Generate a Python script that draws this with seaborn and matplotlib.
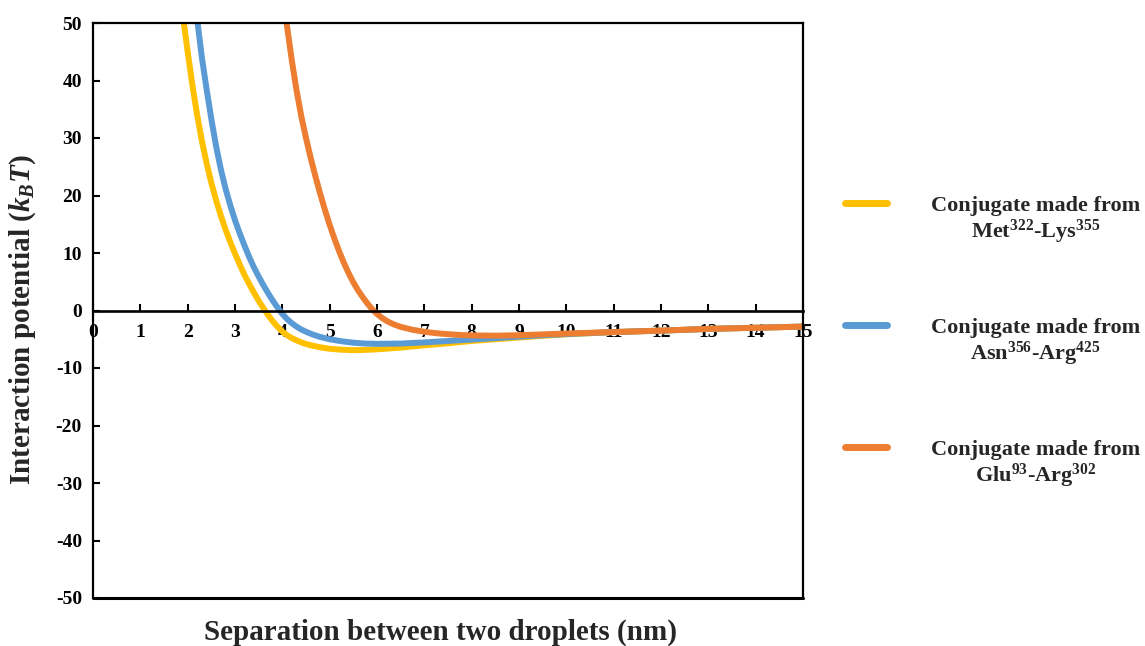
import numpy as np
import pandas as pd
import seaborn as sns
import matplotlib
matplotlib.use("Agg")
import matplotlib.pyplot as plt
from matplotlib.lines import Line2D
from matplotlib.legend_handler import HandlerBase

# ---------------- data ----------------
labels = [
    "Conjugate made from\nMet$^{322}$-Lys$^{355}$",
    "Conjugate made from\nAsn$^{356}$-Arg$^{425}$",
    "Conjugate made from\nGlu$^{93}$-Arg$^{302}$",
]
colors = ["#FFC000", "#5B9BD5", "#ED7D31"]

met_x = [1.92, 2.0, 2.1, 2.2, 2.3, 2.4, 2.5, 2.6, 2.7, 2.8, 2.9, 3.0, 3.1, 3.2, 3.3,
         3.4, 3.5, 3.6, 3.7, 3.8, 3.9, 4.0, 4.1, 4.2, 4.3, 4.45, 4.6, 4.8, 5.0, 5.25,
         5.5, 5.75, 6.0, 6.5, 7.0, 7.5, 8.0, 8.5, 9.0, 9.5, 10.0, 11.0, 12.0, 13.0,
         14.0, 15.0]
met_y = [50.0, 45.0, 39.2, 34.0, 29.5, 25.6, 22.2, 19.2, 16.5, 14.1, 11.9, 9.9, 8.0,
         6.2, 4.6, 3.1, 1.7, 0.4, -0.8, -1.9, -2.85, -3.65, -4.3, -4.8, -5.2, -5.7,
         -6.05, -6.4, -6.65, -6.82, -6.9, -6.85, -6.75, -6.45, -6.05, -5.7, -5.3,
         -5.0, -4.7, -4.4, -4.15, -3.75, -3.5, -3.2, -3.0, -2.8]

asn_x = [2.21, 2.3, 2.4, 2.5, 2.6, 2.7, 2.8, 2.9, 3.0, 3.1, 3.2, 3.3, 3.4, 3.5, 3.6,
         3.7, 3.8, 3.9, 4.0, 4.1, 4.2, 4.3, 4.4, 4.5, 4.65, 4.8, 5.0, 5.25, 5.5, 5.75,
         6.0, 6.5, 7.0, 7.5, 8.0, 8.5, 9.0, 9.5, 10.0, 11.0, 12.0, 13.0, 14.0, 15.0]
asn_y = [50.0, 44.0, 38.5, 33.3, 28.6, 24.6, 21.2, 18.3, 15.7, 13.4, 11.3, 9.3, 7.5,
         5.9, 4.4, 3.0, 1.7, 0.5, -0.6, -1.5, -2.2, -2.8, -3.3, -3.7, -4.2, -4.6, -5.0,
         -5.35, -5.6, -5.75, -5.8, -5.75, -5.55, -5.3, -5.05, -4.8, -4.55, -4.3, -4.1,
         -3.75, -3.5, -3.2, -3.0, -2.8]

glu_x = [4.09, 4.2, 4.3, 4.4, 4.5, 4.6, 4.7, 4.8, 4.9, 5.0, 5.1, 5.2, 5.3, 5.4, 5.5,
         5.6, 5.7, 5.8, 5.9, 6.0, 6.1, 6.2, 6.35, 6.5, 6.75, 7.0, 7.25, 7.5, 7.75, 8.0,
         8.5, 9.0, 9.5, 10.0, 11.0, 12.0, 13.0, 14.0, 15.0]
glu_y = [50.0, 43.5, 38.3, 33.8, 30.0, 26.5, 23.3, 20.3, 17.5, 14.9, 12.5, 10.3, 8.3,
         6.5, 4.9, 3.5, 2.3, 1.2, 0.2, -0.6, -1.25, -1.8, -2.4, -2.85, -3.35, -3.7,
         -3.95, -4.12, -4.25, -4.33, -4.38, -4.3, -4.15, -4.0, -3.75, -3.5, -3.2, -3.0,
         -2.8]

x_ticks = list(range(0, 16))
y_ticks = list(range(-50, 51, 10))

# ---------------- style ----------------
sns.set_theme(style="white")
plt.rcParams["font.family"] = ["Liberation Serif", "DejaVu Serif"]
plt.rcParams["font.weight"] = "bold"
plt.rcParams["axes.unicode_minus"] = False
plt.rcParams["mathtext.fontset"] = "custom"
plt.rcParams["mathtext.rm"] = "Liberation Serif:bold"
plt.rcParams["mathtext.it"] = "Liberation Serif:bold:italic"
plt.rcParams["mathtext.bf"] = "Liberation Serif:bold"

df = pd.concat([
    pd.DataFrame({"x": met_x, "y": met_y, "series": labels[0]}),
    pd.DataFrame({"x": asn_x, "y": asn_y, "series": labels[1]}),
    pd.DataFrame({"x": glu_x, "y": glu_y, "series": labels[2]}),
], ignore_index=True)

fig = plt.figure(figsize=(11.45, 6.46), dpi=100)
W, H = 1145, 646
ax = fig.add_axes([93 / W, 1 - 598 / H, (803 - 93) / W, (598 - 23) / H])

sns.lineplot(data=df, x="x", y="y", hue="series", hue_order=labels,
             palette=colors, estimator=None, sort=False, linewidth=4.3,
             legend=False, ax=ax)
for ln in ax.get_lines():
    ln.set_solid_joinstyle("round")

ax.set_xlim(0, 15)
ax.set_ylim(-50, 50)
ax.set_xticks(x_ticks)
ax.set_yticks(y_ticks)

for s in ax.spines.values():
    s.set_color("black")
    s.set_linewidth(1.6)
    s.set_visible(True)
ax.spines["bottom"].set_position(("data", 0))
ax.spines["bottom"].set_linewidth(1.9)
ax.axhline(-50, color="black", linewidth=2.2, clip_on=False, zorder=5)

ax.tick_params(axis="x", direction="in", length=5, width=1.5, pad=10,
               labelsize=14, colors="black", bottom=True)
ax.tick_params(axis="y", direction="in", length=5, width=1.5, pad=8,
               labelsize=14, colors="black", left=True)
for t in ax.get_xticklabels() + ax.get_yticklabels():
    t.set_fontweight("bold")

ax.set_xlabel("")
ax.set_ylabel("")
fig.text(440 / W, 1 - 632 / H, "Separation between two droplets (nm)",
         ha="center", va="center", fontsize=21, fontweight="bold")
fig.text(23 / W, 1 - 320 / H, r"Interaction potential ($k_BT$)",
         ha="center", va="center", rotation=90, fontsize=21, fontweight="bold")


class UpperLineHandler(HandlerBase):
    """Legend line aligned with the first line of a two-line label."""
    def create_artists(self, legend, orig_handle, xdescent, ydescent,
                       width, height, fontsize, trans):
        y = (height - ydescent) / 2 + 0.8 * fontsize
        line = Line2D([-xdescent, width - xdescent], [y, y],
                      color=orig_handle.get_color(),
                      linewidth=orig_handle.get_linewidth(),
                      solid_capstyle="round")
        line.set_transform(trans)
        return [line]


handles = [Line2D([0], [0], color=c, linewidth=5.0) for c in colors]
leg = fig.legend(handles, labels, loc="center left",
                 bbox_to_anchor=(825 / W, 1 - 343 / H), frameon=False,
                 fontsize=16, handlelength=1.9, handletextpad=1.95,
                 labelspacing=3.25,
                 handler_map={Line2D: UpperLineHandler()})
for t in leg.get_texts():
    t.set_multialignment("center")
    t.set_fontweight("bold")
    t.set_linespacing(1.08)

fig.savefig("out.png", dpi=100)
